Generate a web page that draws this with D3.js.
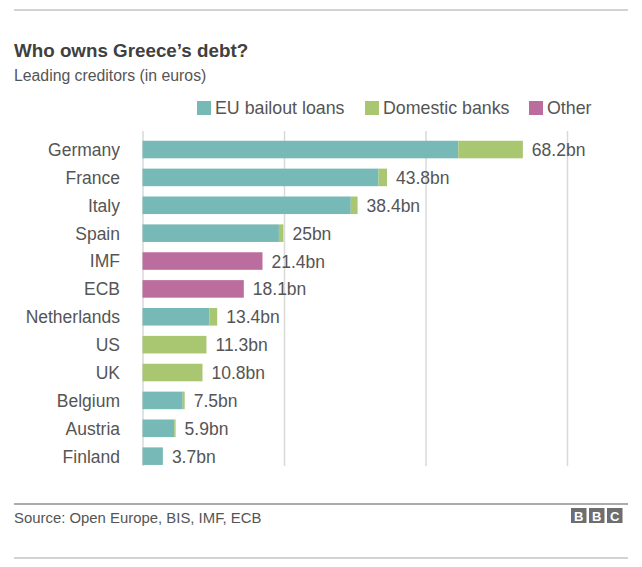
<!DOCTYPE html>
<html>
<head>
<meta charset="utf-8">
<script src="https://cdn.jsdelivr.net/npm/d3@7"></script>
<style>
  html, body { margin: 0; padding: 0; background: #fff; }
  text { font-family: "Liberation Sans", Arial, sans-serif; fill: #555; }
</style>
</head>
<body>
<svg id="chart" width="642" height="567"></svg>
<script>
// chart data, values (bn euros)
var categories = ["Germany", "France", "Italy", "Spain", "IMF", "ECB", "Netherlands", "US", "UK", "Belgium", "Austria", "Finland"];
var euLoans = [55.8, 41.7, 36.8, 24.1, 0, 0, 11.8, 0, 0, 7.1, 5.6, 3.6];
var domesticBanks = [11.4, 1.5, 1.2, 0.8, 0, 0, 1.4, 11.3, 10.6, 0.35, 0.25, 0];
var other = [0, 0, 0, 0, 21.2, 17.9, 0, 0, 0, 0, 0, 0];
var valueLabels = ["68.2bn", "43.8bn", "38.4bn", "25bn", "21.4bn", "18.1bn", "13.4bn", "11.3bn", "10.8bn", "7.5bn", "5.9bn", "3.7bn"];
var gridTicks = [0, 25, 50, 75];
var seriesNames = ["EU bailout loans", "Domestic banks", "Other"];
var seriesColors = ["#76b9b7", "#a9c671", "#bb6d9d"];

var svg = d3.select("#chart");

var x = d3.scaleLinear().domain([0, 75]).range([142.5, 567]);
var y = d3.scaleBand().domain(categories).range([135.6, 470.1]).paddingInner(0.37).paddingOuter(0.185);

// top and bottom rules
[[10, "#c4c4c4"], [504, "#8f8f8f"], [558, "#c4c4c4"]].forEach(function(r) {
    svg.append("line").attr("x1", 14).attr("x2", 628).attr("y1", r[0]).attr("y2", r[0])
        .attr("stroke", r[1]).attr("stroke-width", 1.5);
});

svg.append("text").attr("x", 14).attr("y", 57).text("Who owns Greece\u2019s debt?")
    .style("font-size", "18.8px").style("font-weight", "bold").style("fill", "#404040");
svg.append("text").attr("x", 14).attr("y", 81).text("Leading creditors (in euros)")
    .style("font-size", "15.8px");

// legend
var legendX = [197, 365, 529];
seriesNames.forEach(function(name, i) {
    svg.append("rect").attr("x", legendX[i]).attr("y", 101).attr("width", 14).attr("height", 14)
        .attr("fill", seriesColors[i]);
    svg.append("text").attr("x", legendX[i] + 18).attr("y", 114).text(name).style("font-size", "17.8px");
});

// gridlines, drawn from an axis
var grid = svg.append("g").attr("transform", "translate(0,466)")
    .call(d3.axisBottom(x).tickValues(gridTicks).tickSize(-335).tickFormat(""));
grid.select(".domain").remove();
grid.selectAll("line").attr("stroke", "#d9d9d9").attr("stroke-width", 1.5);

// category labels
var yAxis = svg.append("g").attr("transform", "translate(120,0.8)")
    .call(d3.axisLeft(y).tickSize(0).tickPadding(0));
yAxis.select(".domain").remove();
yAxis.selectAll("text").style("font-size", "17.5px").style("font-family", '"Liberation Sans", Arial, sans-serif').style("fill", "#555");

// stacked bars
var rows = categories.map(function(c, i) {
    return { name: c, eu: euLoans[i], banks: domesticBanks[i], other: other[i] };
});
var stack = d3.stack().keys(["eu", "banks", "other"]);

svg.selectAll("g.series")
    .data(stack(rows))
    .enter().append("g")
    .attr("class", "series")
    .attr("fill", function(d, i) { return seriesColors[i]; })
    .selectAll("rect")
    .data(function(d) { return d; })
    .enter().append("rect")
    .attr("x", function(d) { return x(d[0]); })
    .attr("y", function(d) { return y(d.data.name); })
    .attr("width", function(d) { return x(d[1]) - x(d[0]); })
    .attr("height", y.bandwidth());

// value labels at the end of each bar
svg.selectAll("text.value")
    .data(rows)
    .enter().append("text")
    .attr("class", "value")
    .attr("x", function(d) { return x(d.eu + d.banks + d.other) + 9; })
    .attr("y", function(d) { return y(d.name) + y.bandwidth() / 2 + 6.5; })
    .text(function(d, i) { return valueLabels[i]; })
    .style("font-size", "17.5px");

// source and BBC blocks
svg.append("text").attr("x", 14).attr("y", 523).text("Source: Open Europe, BIS, IMF, ECB").style("font-size", "14.9px");
["B", "B", "C"].forEach(function(letter, i) {
    svg.append("rect").attr("x", 571 + i * 18).attr("y", 508).attr("width", 15.5).attr("height", 15).attr("fill", "#6e6e6e");
    svg.append("text").attr("x", 578.8 + i * 18).attr("y", 520.5).attr("text-anchor", "middle").text(letter)
        .style("font-size", "13px").style("font-weight", "bold").style("fill", "#fff");
});
</script>
</body>
</html>
